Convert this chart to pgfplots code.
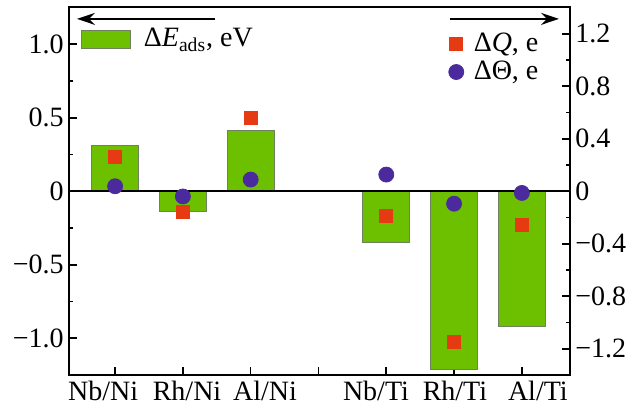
\documentclass[border=0pt]{standalone}
\usepackage{fontspec}
\setmainfont{Liberation Serif}
\usepackage{pgfplots}
\pgfplotsset{compat=1.18}
\usetikzlibrary{arrows.meta}
\definecolor{barg}{RGB}{108,192,0}
\definecolor{baredge}{RGB}{110,130,95}
\definecolor{sqred}{RGB}{230,58,18}
\definecolor{cpur}{RGB}{75,42,158}
\begin{document}
\begin{tikzpicture}[font=\fontsize{14}{16}\selectfont]
\useasboundingbox (0,0) rectangle (314pt,205.5pt);
\begin{axis}[
  at={(34.5pt,18pt)}, anchor=south west,
  width=250.5pt, height=183.75pt, scale only axis,
  xmin=0.32, xmax=7.71, ymin=-1.25, ymax=1.25,
  axis line style={line width=1pt},
  every tick/.style={line width=0.8pt, black},
  tick align=inside,
  xtick pos=bottom, ytick pos=left,
  xtick={1,2,3,4,5,6,7}, xticklabels={},
  extra x ticks={0.823,2.061,3.211,4.848,6.013,7.236},
  extra x tick labels={Nb/Ni,Rh/Ni,Al/Ni,Nb/Ti,Rh/Ti,Al/Ti},
  extra x tick style={major tick length=0pt},
  ytick={-1,-0.5,0,0.5,1},
  yticklabels={−1.0,−0.5,0,0.5,1.0},
  minor ytick={-0.75,-0.25,0.25,0.75},
  major tick length=4pt, minor tick length=2.2pt,
  yticklabel style={inner sep=2.5pt},
  xticklabel style={inner sep=3pt},
  legend image code/.code={\draw[#1] (0pt,-4.5pt) rectangle (24.5pt,4.5pt);},
  legend style={draw=none, fill=none, inner sep=0pt, outer sep=0pt,
    at={(axis description cs:0.0234,0.912)}, anchor=west,
    nodes={inner sep=0pt, text height=10pt, text depth=3pt}},
]
\addplot[ybar, bar width=0.69, fill=barg, draw=baredge, line width=0.5pt]
  coordinates {(1,0.31) (2,-0.14) (3,0.41) (5,-0.35) (6,-1.21) (7,-0.92)};
\addlegendentry{\hspace{6.6pt}Δ\textit{E}\textsubscript{ads}, eV}
\draw[line width=1pt] (axis cs:0.32,0) -- (axis cs:7.71,0);
\draw[-{Stealth[length=9pt,width=6pt,inset=3pt]}, line width=1.1pt]
  (axis description cs:0.291,0.969) -- (axis description cs:0.016,0.969);
\draw[-{Stealth[length=9pt,width=6pt,inset=3pt]}, line width=1.1pt]
  (axis description cs:0.760,0.969) -- (axis description cs:0.978,0.969);
\end{axis}
\begin{axis}[
  at={(34.5pt,18pt)}, anchor=south west,
  width=250.5pt, height=183.75pt, scale only axis,
  xmin=0.32, xmax=7.71, ymin=-1.4, ymax=1.4,
  hide x axis, axis y line*=right,
  axis line style={line width=1pt},
  every tick/.style={line width=0.8pt, black},
  tick align=inside,
  ytick={-1.2,-0.8,-0.4,0,0.4,0.8,1.2},
  yticklabels={−1.2,−0.8,−0.4,0,0.4,0.8,1.2},
  minor ytick={-1.0,-0.6,-0.2,0.2,0.6,1.0},
  major tick length=4pt, minor tick length=2.2pt,
  yticklabel style={inner sep=2.5pt},
  legend image code/.code={\draw[#1] plot coordinates {(3.5pt,0pt)};},
  legend style={draw=none, fill=none, inner sep=0pt, outer sep=0pt,
    at={(axis description cs:0.758,0.936)}, anchor=north west,
    nodes={inner sep=0pt, text height=10pt, text depth=3pt},
    row sep=1pt},
]
\addplot[only marks, mark=square*, mark size=3.25pt, color=sqred]
  coordinates {(1,0.26) (2,-0.16) (3,0.56) (5,-0.19) (6,-1.15) (7,-0.26)};
\addlegendentry{\hspace{5pt}Δ\textit{Q}, e}
\addplot[only marks, mark=*, mark size=3.75pt, color=cpur]
  coordinates {(1,0.038) (2,-0.04) (3,0.089) (5,0.127) (6,-0.095) (7,-0.013)};
\addlegendentry{\hspace{5pt}ΔΘ, e}
\end{axis}
\end{tikzpicture}
\end{document}
